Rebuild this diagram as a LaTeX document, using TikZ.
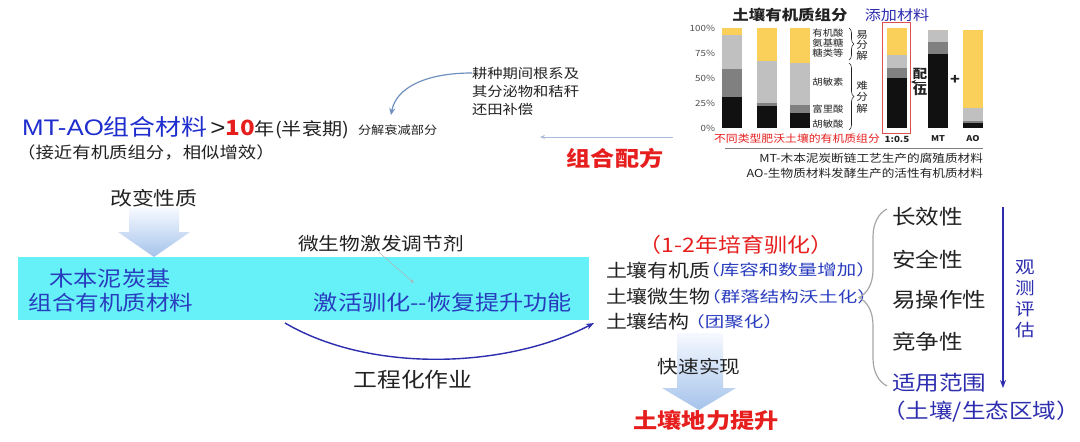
\documentclass[tikz,border=0pt]{standalone}
\usepackage{fontspec}
\setmainfont{Noto Sans CJK SC}[FakeStretch=1.15]
\newfontfamily\widefont{Noto Sans CJK SC}[FakeStretch=1.3]
\newfontfamily\arialf{Liberation Sans}[FakeStretch=1.15]
\usetikzlibrary{arrows.meta,decorations.pathreplacing}
\newcommand{\fs}[1]{\fontsize{#1}{#1}\selectfont}
\definecolor{bandcyan}{RGB}{102,241,248}
\definecolor{bandblue}{RGB}{40,60,190}
\definecolor{navy}{RGB}{45,45,175}
\definecolor{redt}{RGB}{230,30,30}
\definecolor{darkt}{RGB}{34,34,34}
\definecolor{barY}{RGB}{250,208,90}
\definecolor{barL}{RGB}{192,192,192}
\definecolor{barD}{RGB}{128,128,128}
\definecolor{barK}{RGB}{17,17,17}
\definecolor{ltblue}{RGB}{112,144,192}
\definecolor{mtblue}{RGB}{30,45,205}
\definecolor{arrT}{RGB}{246,249,255}
\definecolor{arrB}{RGB}{165,195,235}
\definecolor{boxred}{RGB}{225,80,80}
\newcommand{\stackbar}[6]{%
  \fill[barK] (#1,128) rectangle (#2,{128-#3});
  \fill[barD] (#1,{128-#3}) rectangle (#2,{128-#4});
  \fill[barL] (#1,{128-#4}) rectangle (#2,{128-#5});
  \fill[barY] (#1,{128-#5}) rectangle (#2,{128-#6});
}
\begin{document}
\begin{tikzpicture}[x=1pt,y=-1pt,
  txt/.style={inner sep=0pt,outer sep=0pt,text=darkt},
  curvearr/.style={draw=ltblue,line width=1.2pt,-{Stealth[length=7pt,width=6pt]}},
  thinarr/.style={draw=#1,line width=0.7pt,-{Stealth[length=5pt,width=4pt]}},
  engarr/.style={draw=navy,line width=1.4pt,-{Stealth[length=8pt,width=6pt]}},
  gradarr/.style={top color=arrT,bottom color=arrB},
  smallbrace/.style={draw=darkt,line width=0.6pt,decorate,decoration={brace,amplitude=5pt}},
  bigbrace/.style={draw=gray!70,line width=1.2pt,decorate,decoration={brace,amplitude=28pt}}]
\useasboundingbox (0,0) rectangle (1080,442);
\fill[white] (0,0) rectangle (1080,442);

% ---------- chart ----------
\node[txt,font=\fs{14.3}\bfseries] (ctitle) at (790,15) {土壤有机质组分};
\node[txt,font=\fs{14},text=navy] (cadd) at (897,15) {添加材料};
\foreach \p/\l in {0/0\%,25/25\%,50/50\%,75/75\%,100/100\%}
  \node[txt,anchor=east,font=\fs{8.5},text=darkt!80] (ax\p) at (715,{128-\p}) {\l};
\stackbar{722}{742}{31}{59}{93}{100}
\stackbar{757}{777}{22}{25}{67}{100}
\stackbar{790}{810}{15}{23}{65}{100}
\stackbar{887}{907}{50}{60}{73}{100}
\stackbar{928}{948}{74}{86}{98}{98}
\stackbar{963}{983}{5}{7}{20}{98}
\draw[boxred,line width=1pt] (882,22) rectangle (910,133);
\node[txt,font=\fs{9}] (l1) at (828,33) {有机酸};
\node[txt,font=\fs{9}] (l2) at (828,43) {氨基糖};
\node[txt,font=\fs{9}] (l3) at (828,53) {糖类等};
\node[txt,font=\fs{9}] (l4) at (828,82) {胡敏素};
\node[txt,font=\fs{9}] (l5) at (828,109) {富里酸};
\node[txt,font=\fs{9}] (l6) at (828,124) {胡敏酸};
\coordinate (b1a) at (849,28); \coordinate (b1b) at (849,60);
\coordinate (b2a) at (849,63); \coordinate (b2b) at (849,130);
\draw[smallbrace] (b1a) -- (b1b);
\draw[smallbrace] (b2a) -- (b2b);
\node[txt,align=center,font={\fontsize{10}{10.5}\selectfont}] (yfj) at (862,45) {易\\分\\解};
\node[txt,align=center,font={\fontsize{10}{11.5}\selectfont}] (nfj) at (862,97) {难\\分\\解};
\node[txt,align=center,font={\fontsize{12.5}{16}\selectfont\bfseries}] (pw) at (920,82) {配\\伍};
\coordinate (pwa) at (926,82); \coordinate (pwb) at (911,82);
\draw[thinarr=darkt] (pwa) -- (pwb);
\node[txt,font=\fs{14}\bfseries] (plus) at (955,80) {+};
\node[txt,font=\fs{10.3},text=redt] (cred) at (797,139) {不同类型肥沃土壤的有机质组分};
\node[txt,font=\fs{8.5}\bfseries] (r15) at (897,139) {1:0.5};
\node[txt,font=\fs{8}\bfseries] (rmt) at (938,139) {MT};
\node[txt,font=\fs{8}\bfseries] (rao) at (973,139) {AO};
\coordinate (sepa) at (725,148); \coordinate (sepb) at (983,148);
\draw[gray,line width=0.8pt] (sepa) -- (sepb);
\node[txt,anchor=east,font=\fs{11}] (mtdef) at (983,158) {MT-木本泥炭断链工艺生产的腐殖质材料};
\node[txt,anchor=east,font=\fs{11}] (aodef) at (983,173) {AO-生物质材料发酵生产的活性有机质材料};

% ---------- top left ----------
\node[txt,anchor=west] (mtao) at (22,128) {\fs{22.5}\color{mtblue}{\arialf MT-AO}组合材料\hspace{3pt}\color{darkt}{\arialf >}\textcolor{redt}{\fs{21}\bfseries 10}{\fs{17.5}\color{darkt}年(半衰期)}};
\node[txt,anchor=west,font=\fs{11.5}] (fjsj) at (358,130) {分解衰减部分};
\node[txt,font=\fs{16}] (jj) at (146,153) {（接近有机质组分，相似增效）};
\node[txt,anchor=west,font=\fs{13.3}] (gz1) at (472,73) {耕种期间根系及};
\node[txt,anchor=west,font=\fs{13.3}] (gz2) at (472,91) {其分泌物和秸秆};
\node[txt,anchor=west,font=\fs{13.3}] (gz3) at (472,109) {还田补偿};
\coordinate (tipA) at (391,115);
\draw[curvearr] (gz1.west) .. controls (425,73) and (396,88) .. (tipA);
\coordinate (zhA) at (673,137); \coordinate (zhB) at (540,137);
\draw[thinarr=ltblue!60] (zhA) -- (zhB);
\node[txt,font=\fs{21}\bfseries,text=redt] (zhpf) at (615,158) {组合配方};

% ---------- band ----------
\node[txt,font=\fs{19}] (gbxz) at (154,198) {改变性质};
\shade[gradarr] (129,208) -- (179,208) -- (179,232) -- (190,232) -- (154,257) -- (118,232) -- (129,232) -- cycle;
\fill[bandcyan] (18,257) rectangle (589,320);
\node[txt,font=\fs{21},text=bandblue] (mb1) at (110,279) {木本泥炭基};
\node[txt,font=\fs{20.5},text=bandblue] (mb2) at (111,303) {组合有机质材料};
\node[txt,font=\fs{21},text=bandblue] (jh) at (443,303) {激活驯化-{}-恢复提升功能};
\node[txt,font=\fs{18}] (wsw) at (381,244) {微生物激发调节剂};
\coordinate (tipW) at (414,283);
\draw[draw=gray!60,line width=0.5pt,-{Stealth[length=4pt,width=3pt]}] ([xshift=-2pt]wsw.south) -- (tipW);

% ---------- right middle ----------
\node[txt,font=\fs{20},text=redt] (py) at (736,245) {（1-2年培育驯化）};
\node[txt,anchor=west,font=\fs{18.2}] (s1) at (606,270) {土壤有机质};
\node[txt,font=\widefont\fs{15},text=bandblue] (s1b) at (788,270) {（库容和数量增加）};
\node[txt,anchor=west,font=\fs{18.2}] (s2) at (606,297) {土壤微生物};
\node[txt,font=\widefont\fs{15},text=bandblue] (s2b) at (789,297) {（群落结构沃土化）};
\node[txt,anchor=west,font=\fs{18.2}] (s3) at (606,322) {土壤结构};
\node[txt,font=\widefont\fs{15},text=bandblue] (s3b) at (734,322) {（团聚化）};
\coordinate (gc1) at (285,323);
\draw[engarr] (gc1) .. controls (372,374) and (508,368) .. ([xshift=-12pt,yshift=-1pt]s3.west);
\node[txt,font=\fs{20.7}] (gch) at (413,380) {工程化作业};
\shade[gradarr] (677,333) -- (723,333) -- (723,388) -- (736,388) -- (699,410) -- (662,388) -- (677,388) -- cycle;
\node[txt,font=\fs{18}] (kssx) at (699,367) {快速实现};
\node[txt,font=\fs{21}\bfseries,text=redt] (dlts) at (706,420) {土壤地力提升};

% ---------- right list ----------
\coordinate (brA) at (887,386); \coordinate (brB) at (887,209);
\draw[bigbrace] (brA) -- (brB);
\node[txt,anchor=west,font=\fs{20.5}] (c1) at (892,217) {长效性};
\node[txt,anchor=west,font=\fs{20.5}] (c2) at (892,260) {安全性};
\node[txt,anchor=west,font=\fs{20.5}] (c3) at (892,300) {易操作性};
\node[txt,anchor=west,font=\fs{20.5}] (c4) at (892,342) {竞争性};
\node[txt,anchor=west,font=\fs{20.5},text=navy] (c5) at (892,383) {适用范围};
\node[txt,font=\fs{20.5},text=navy] (c6) at (981,412) {（土壤/生态区域）};
\coordinate (va1) at (1003,207); \coordinate (va2) at (1003,388);
\draw[draw=navy,line width=1.6pt,-{Stealth[length=8pt,width=6pt]}] (va1) -- (va2);
\node[txt,align=center,text=navy,font={\fontsize{17}{20.7}\selectfont}] (gcpg) at (1025,299) {观\\测\\评\\估};
\end{tikzpicture}
\end{document}
